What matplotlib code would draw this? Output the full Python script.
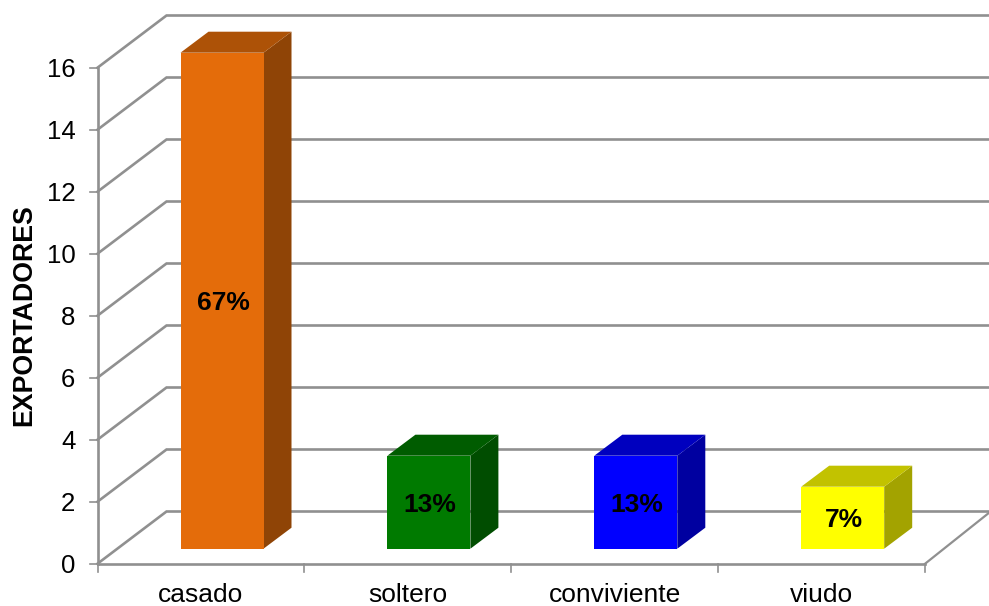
import matplotlib
matplotlib.use('Agg')
import matplotlib.pyplot as plt
from matplotlib.patches import Polygon

plt.rcParams['font.family'] = ['Liberation Sans', 'DejaVu Sans']

categories = ['casado', 'soltero', 'conviviente', 'viudo']
values = [16, 3, 3, 2]
labels = ['67%', '13%', '13%', '7%']
front_colors = ['#E46C0A', '#007A00', '#0000FF', '#FFFF00']
top_colors = ['#AD5207', '#005C00', '#0000BF', '#C2C200']
side_colors = ['#8F4406', '#004D00', '#0000A0', '#A3A300']
y_ticks = [0, 2, 4, 6, 8, 10, 12, 14, 16]

GRID = '#909090'
WIDTH, HEIGHT = 989, 606
X_UNIT = 206.9   # px per category
Y_UNIT = 31.0    # px per value
X_ORIGIN = 97.5
Y_ORIGIN = 563.7

# depth of the 3d box, in data units
WALL_DX = 69 / X_UNIT
WALL_DY = 52.2 / Y_UNIT
BAR_SHIFT_X = 83 / X_UNIT
BAR_SHIFT_Y = 15 / Y_UNIT
BAR_W = 83 / X_UNIT
BAR_DX = 28 / X_UNIT
BAR_DY = 21 / Y_UNIT
TEXT_DROP = 2.5 / Y_UNIT

fig = plt.figure(figsize=(WIDTH / 100, HEIGHT / 100), dpi=100)
ax = fig.add_axes([0, 0, 1, 1])
ax.set_xlim(-X_ORIGIN / X_UNIT, (WIDTH - X_ORIGIN) / X_UNIT)
ax.set_ylim(-(HEIGHT - Y_ORIGIN) / Y_UNIT, Y_ORIGIN / Y_UNIT)
ax.axis('off')

n = len(categories)
x_end = ax.get_xlim()[1]

# gridlines run along the left wall, then across the back wall
for tick in y_ticks:
    ax.plot([0, WALL_DX, x_end], [tick, tick + WALL_DY, tick + WALL_DY],
            color=GRID, lw=1.9, solid_joinstyle='miter', zorder=1)
    ax.plot([-8 / X_UNIT, 0], [tick, tick], color=GRID, lw=1.2, zorder=1)
    ax.text(-22 / X_UNIT, tick - TEXT_DROP, str(tick), ha='right', va='center',
            fontsize=18.5, color='black')

# front edges and floor
ax.plot([0, 0], [y_ticks[0], y_ticks[-1]], color=GRID, lw=1.9, zorder=1)
ax.plot([0, n], [0, 0], color=GRID, lw=1.9, zorder=1)
ax.plot([n, n + WALL_DX * 0.95], [0, WALL_DY], color=GRID, lw=1.6, zorder=1)
for i in range(n + 1):
    ax.plot([i, i], [0, -8 / Y_UNIT], color=GRID, lw=1.2, zorder=1)

for i, name in enumerate(categories):
    x0 = i + BAR_SHIFT_X
    x1 = x0 + BAR_W
    y0 = BAR_SHIFT_Y
    y1 = values[i] + BAR_SHIFT_Y
    ax.add_patch(Polygon([(x1, y0), (x1 + BAR_DX, y0 + BAR_DY),
                          (x1 + BAR_DX, y1 + BAR_DY), (x1, y1)],
                         facecolor=side_colors[i], edgecolor='none', zorder=2))
    ax.add_patch(Polygon([(x0, y1), (x1, y1), (x1 + BAR_DX, y1 + BAR_DY),
                          (x0 + BAR_DX, y1 + BAR_DY)],
                         facecolor=top_colors[i], edgecolor='none', zorder=2))
    ax.add_patch(Polygon([(x0, y0), (x1, y0), (x1, y1), (x0, y1)],
                         facecolor=front_colors[i], edgecolor='none', zorder=3))
    ax.text((x0 + x1) / 2 + 1 / X_UNIT, (y0 + y1) / 2 - TEXT_DROP, labels[i],
            ha='center', va='center', fontsize=19, fontweight='bold',
            color='black', zorder=4)
    ax.text(i + 0.5, -31 / Y_UNIT, name, ha='center', va='center',
            fontsize=19, color='black')

ax.text((24.5 - X_ORIGIN) / X_UNIT, (Y_ORIGIN - 315.5) / Y_UNIT, 'EXPORTADORES',
        rotation=90, ha='center', va='center', fontsize=19.3, fontweight='bold',
        color='black')

fig.savefig('out.png', dpi=100)
